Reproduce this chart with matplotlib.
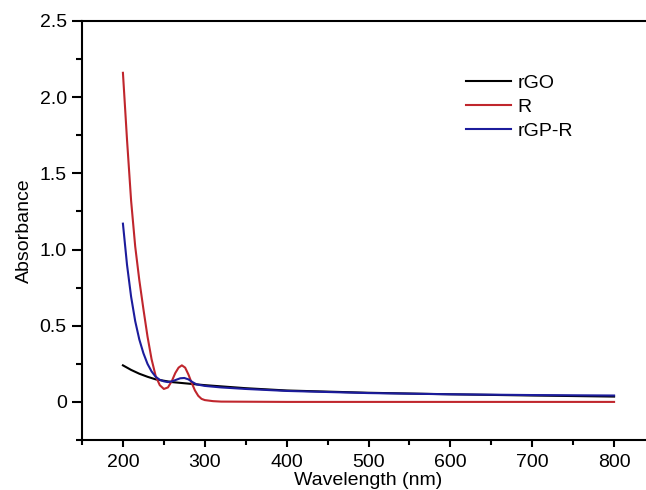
import numpy as np
import matplotlib.pyplot as plt
from matplotlib.ticker import MultipleLocator

plt.rcParams.update({
    "font.family": ["Liberation Sans", "DejaVu Sans"],
    "font.size": 14,
})

wl_rgo = [200, 210, 220, 230, 240, 260, 280, 300, 350, 400, 500, 600, 700, 800]
a_rgo = [0.24, 0.21, 0.185, 0.165, 0.148, 0.13, 0.12, 0.11, 0.09, 0.075, 0.06, 0.05, 0.042, 0.035]

wl_r = [200, 205, 210, 215, 220, 225, 230, 235, 240, 245, 250, 255, 260, 264, 268,
        272, 276, 280, 284, 288, 292, 296, 300, 310, 320, 400, 500, 600, 700, 800]
a_r = [2.16, 1.72, 1.32, 1.02, 0.80, 0.61, 0.43, 0.28, 0.17, 0.11, 0.085, 0.095,
       0.14, 0.19, 0.225, 0.24, 0.225, 0.18, 0.125, 0.075, 0.04, 0.02, 0.012,
       0.005, 0.002, 0.0, 0.0, 0.0, 0.0, 0.0]

wl_rgpr = [200, 205, 210, 215, 220, 225, 230, 235, 240, 245, 250, 255, 260, 265,
           270, 275, 280, 285, 290, 300, 320, 350, 400, 500, 600, 700, 800]
a_rgpr = [1.17, 0.90, 0.69, 0.53, 0.41, 0.32, 0.25, 0.20, 0.165, 0.145, 0.135,
          0.13, 0.135, 0.145, 0.155, 0.157, 0.148, 0.13, 0.115, 0.105, 0.095,
          0.085, 0.072, 0.058, 0.05, 0.045, 0.042]

fig = plt.figure(figsize=(6.46, 4.9), dpi=100)
ax = fig.add_axes([82/646, 1 - 440/490, (655 - 82)/646, (440 - 21)/490])

ax.plot(wl_rgo, a_rgo, color='black', lw=1.5, label='rGO')
ax.plot(wl_r, a_r, color='#c0262d', lw=1.5, label='R')
ax.plot(wl_rgpr, a_rgpr, color='#1c1c9c', lw=1.5, label='rGP-R')

ax.set_xlim(150, 850)
ax.set_ylim(-0.25, 2.5)
ax.set_xticks([200, 300, 400, 500, 600, 700, 800])
ax.xaxis.set_minor_locator(MultipleLocator(50))
ax.set_yticks([0, 0.5, 1.0, 1.5, 2.0, 2.5], ['0', '0.5', '1.0', '1.5', '2.0', '2.5'])
ax.yaxis.set_minor_locator(MultipleLocator(0.25))
ax.tick_params(which='both', direction='out', width=1.5)
ax.tick_params(axis='y', which='major', length=7, pad=4)
ax.tick_params(axis='y', which='minor', length=4)
ax.tick_params(axis='x', which='major', length=5, pad=5)
ax.tick_params(axis='x', which='minor', length=3.5)
for s in ax.spines.values():
    s.set_linewidth(1.5)

ax.set_xlabel('Wavelength (nm)', labelpad=1)
ax.set_ylabel('Absorbance', labelpad=5)
ax.legend(frameon=False, loc='upper left', bbox_to_anchor=(0.64, 0.915),
          handlelength=2.3, handletextpad=0.35, labelspacing=0.33)

fig.savefig('out.png')
